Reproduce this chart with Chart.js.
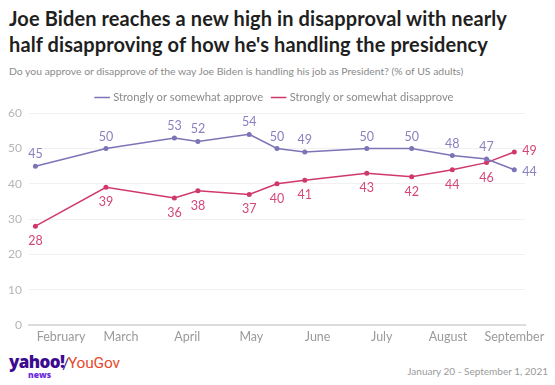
<!DOCTYPE html>
<html>
<head>
<meta charset="utf-8">
<script src="https://cdn.jsdelivr.net/npm/chart.js@4/dist/chart.umd.min.js"></script>
<style>
  html, body { margin: 0; padding: 0; background: #fff; }
  body { width: 555px; height: 385px; position: relative; overflow: hidden; font-family: Lato, "Open Sans", sans-serif; }
  #title { position: absolute; left: 9px; top: 5px; font-size: 20px; font-weight: 700; color: #1f1f1f; line-height: 26px; letter-spacing: 0.1px; }
  #subtitle { position: absolute; left: 9px; top: 65px; font-size: 10.4px; color: #8a8a8a; }
  #wrap { position: absolute; left: 0; top: 82px; width: 555px; height: 266px; }
  #yahoo { position: absolute; left: 9px; top: 351px; font-size: 17px; font-weight: 800; color: #3b0c8f; letter-spacing: -0.6px; font-family: "Open Sans", Lato, sans-serif; line-height: 22px; }
  #news { position: absolute; left: 28px; top: 369px; font-size: 8.5px; font-weight: 800; color: #6f2fe0; font-family: "Open Sans", sans-serif; line-height: 12px; }
  #slash { position: absolute; left: 62px; top: 353px; font-size: 16px; color: #3b0c8f; line-height: 20px; }
  #yougov { position: absolute; left: 68px; top: 353px; font-size: 15.5px; color: #e64a2e; font-family: Roboto, sans-serif; line-height: 20px; letter-spacing: -0.2px; }
  #dates { position: absolute; right: 7px; top: 365px; font-size: 10px; color: #9a9a9a; }
</style>
</head>
<body>
<div id="title">Joe Biden reaches a new high in disapproval with nearly<br>half disapproving of how he's handling the presidency</div>
<div id="subtitle">Do you approve or disapprove of the way Joe Biden is handling his job as President? (% of US adults)</div>
<div id="wrap"><canvas id="c"></canvas></div>
<div id="yahoo">yahoo!</div><div id="news">news</div><div id="slash">/</div><div id="yougov">YouGov</div>
<div id="dates">January 20 - September 1, 2021</div>
<script>
// ---- data ----
const pollDates = ['2021-01-20','2021-02-22','2021-03-26','2021-04-06','2021-04-30','2021-05-13','2021-05-26','2021-06-24','2021-07-15','2021-08-03','2021-08-19','2021-09-01'];
const approve = [45, 50, 53, 52, 54, 50, 49, 50, 50, 48, 47, 44];
const disapprove = [28, 39, 36, 38, 37, 40, 41, 43, 42, 44, 46, 49];
const seriesNames = ['Strongly or somewhat approve', 'Strongly or somewhat disapprove'];
const monthStarts = ['2021-02-01','2021-03-01','2021-04-01','2021-05-01','2021-06-01','2021-07-01','2021-08-01','2021-09-01'];
const monthLabels = ['February','March','April','May','June','July','August','September'];
const yTicks = [0, 10, 20, 30, 40, 50, 60];

function dayOfYear(s) {
  const [y, m, d] = s.split('-').map(Number);
  return (Date.UTC(y, m - 1, d) - Date.UTC(y, 0, 1)) / 86400000 + 1;
}
const xs = pollDates.map(dayOfYear);
const monthX = monthStarts.map(dayOfYear);

const colA = '#7b74b6', colD = '#d0386d';
const labA = '#8781bf', labD = '#d4467a';

const valueLabels = {
  id: 'valueLabels',
  afterDatasetsDraw(chart) {
    const ctx = chart.ctx;
    ctx.save();
    ctx.font = '12.5px Lato, sans-serif';
    chart.data.datasets.forEach((ds, di) => {
      const meta = chart.getDatasetMeta(di);
      meta.data.forEach((pt, i) => {
        const v = ds.data[i].y;
        const last = i === meta.data.length - 1;
        ctx.fillStyle = di === 0 ? labA : labD;
        if (last) {
          ctx.textAlign = 'left'; ctx.textBaseline = 'middle';
          ctx.fillText(String(v), pt.x + 8, pt.y + (di === 0 ? 2 : -1));
        } else if (di === 0) {
          ctx.textAlign = 'center'; ctx.textBaseline = 'middle';
          ctx.fillText(String(v), pt.x, pt.y - 12);
        } else {
          ctx.textAlign = 'center'; ctx.textBaseline = 'middle';
          ctx.fillText(String(v), pt.x, pt.y + 15);
        }
      });
    });
    ctx.restore();
  }
};

new Chart(document.getElementById('c'), {
  type: 'line',
  data: {
    datasets: [
      { label: seriesNames[0], data: xs.map((x, i) => ({x, y: approve[i]})), borderColor: colA, backgroundColor: colA, borderWidth: 1.5, pointRadius: 2.5, pointBorderWidth: 0, tension: 0 },
      { label: seriesNames[1], data: xs.map((x, i) => ({x, y: disapprove[i]})), borderColor: colD, backgroundColor: colD, borderWidth: 1.5, pointRadius: 2.5, pointBorderWidth: 0, tension: 0 }
    ]
  },
  options: {
    responsive: true,
    maintainAspectRatio: false,
    animation: false,
    layout: { padding: { left: 0, right: 5, top: 0, bottom: 0 } },
    plugins: {
      legend: {
        display: true,
        position: 'top',
        labels: {
          usePointStyle: true, pointStyle: 'line', boxWidth: 11, boxHeight: 11, padding: 10, color: '#8a8a8a', font: { family: 'Lato', size: 11.2 },
          generateLabels: (chart) => Chart.defaults.plugins.legend.labels.generateLabels(chart).map((it, i) => Object.assign(it, {
            lineWidth: 1.5, strokeStyle: i === 0 ? colA : colD, pointStyle: 'line'
          }))
        }
      },
      tooltip: { enabled: false }
    },
    scales: {
      x: {
        type: 'linear',
        min: 17, max: 249,
        afterBuildTicks: (s) => { s.ticks = monthX.map(v => ({ value: v })); },
        ticks: { autoSkip: false, maxRotation: 0, padding: 4, color: '#9a9a9a', font: { family: 'Lato', size: 12.5 },
          callback: (v) => { const k = monthX.indexOf(v); return k >= 0 ? monthLabels[k] : ''; } },
        grid: { display: false, drawTicks: false },
        border: { display: true, color: '#dcdcdc', width: 2 }
      },
      y: {
        min: 0, max: 60,
        afterBuildTicks: (s) => { s.ticks = yTicks.map(v => ({ value: v })); },
        afterFit: (s) => { s.width = 29; },
        ticks: { padding: 7, color: '#b5b5b5', font: { family: 'Lato', size: 12 } },
        grid: { color: '#f1f1f1', lineWidth: 1, drawTicks: false },
        border: { display: false }
      },
      yRight: {
        type: 'linear', position: 'right', axis: 'y',
        min: 0, max: 60,
        afterFit: (s) => { s.width = 25; },
        ticks: { display: false },
        grid: { display: false, drawTicks: false },
        border: { display: false }
      }
    }
  },
  plugins: [valueLabels]
});
</script>
</body>
</html>
